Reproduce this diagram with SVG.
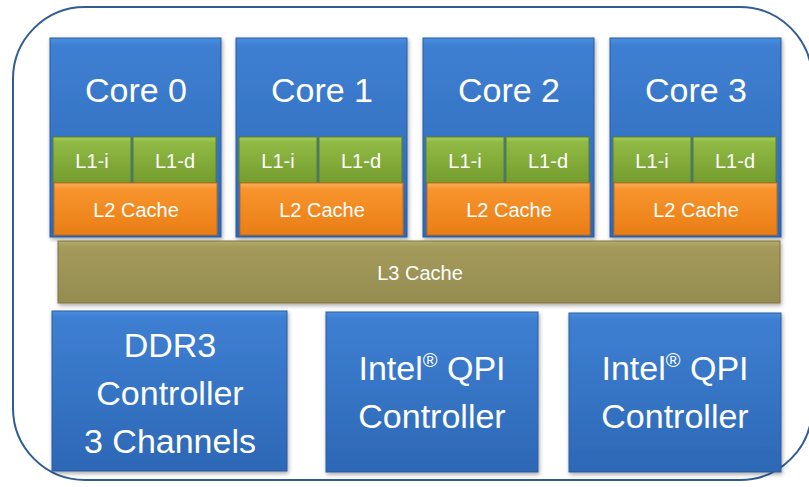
<svg xmlns="http://www.w3.org/2000/svg" width="809" height="487" viewBox="0 0 809 487">
<defs>
<linearGradient id="gBlue" x1="0" y1="0" x2="0" y2="1">
<stop offset="0" stop-color="#4A8EE0"/><stop offset="0.04" stop-color="#3E7FD2"/><stop offset="1" stop-color="#2D68B6"/>
</linearGradient>
<linearGradient id="gGreen" x1="0" y1="0" x2="0" y2="1">
<stop offset="0" stop-color="#A6CC5A"/><stop offset="0.12" stop-color="#8FB944"/><stop offset="1" stop-color="#759C2E"/>
</linearGradient>
<linearGradient id="gOrange" x1="0" y1="0" x2="0" y2="1">
<stop offset="0" stop-color="#FBB060"/><stop offset="0.12" stop-color="#F8942C"/><stop offset="1" stop-color="#E97D15"/>
</linearGradient>
<linearGradient id="gOlive" x1="0" y1="0" x2="0" y2="1">
<stop offset="0" stop-color="#B7AD6A"/><stop offset="0.1" stop-color="#A39A5B"/><stop offset="1" stop-color="#958C50"/>
</linearGradient>
<filter id="sh" x="-10%" y="-10%" width="120%" height="120%">
<feDropShadow dx="1" dy="2" stdDeviation="2" flood-color="#000" flood-opacity="0.35"/>
</filter>
</defs>
<style>
.core{fill:url(#gBlue);stroke:#2A5C9E;stroke-width:1;filter:url(#sh)}
.l1{fill:url(#gGreen);stroke:#5E7F25;stroke-width:1}
.l2{fill:url(#gOrange);stroke:#C8680E;stroke-width:1}
.l3{fill:url(#gOlive);stroke:#7E7540;stroke-width:1;filter:url(#sh)}
text{font-family:"Liberation Sans",Arial,sans-serif;fill:#fff;text-anchor:middle}
.big{font-size:34px}
.sm{font-size:20px}
.sup{font-size:20px}
</style>
<rect x="13" y="7" width="799" height="473" rx="72" ry="72" fill="none" stroke="#2F5D93" stroke-width="2"/>

<g id="core0">
<rect class="core" x="50" y="38" width="171" height="199"/>
<text class="big" x="136" y="102">Core 0</text>
<rect class="l1" x="53" y="137" width="78" height="46"/>
<text class="sm" x="92" y="168">L1-i</text>
<rect class="l1" x="133" y="137" width="83" height="46"/>
<text class="sm" x="175" y="168">L1-d</text>
<rect class="l2" x="54" y="183" width="163" height="52"/>
<text class="sm" x="136" y="217">L2 Cache</text>
</g>
<g id="core1">
<rect class="core" x="236" y="38" width="171" height="199"/>
<text class="big" x="322" y="102">Core 1</text>
<rect class="l1" x="239" y="137" width="78" height="46"/>
<text class="sm" x="278" y="168">L1-i</text>
<rect class="l1" x="319" y="137" width="83" height="46"/>
<text class="sm" x="361" y="168">L1-d</text>
<rect class="l2" x="240" y="183" width="163" height="52"/>
<text class="sm" x="322" y="217">L2 Cache</text>
</g>
<g id="core2">
<rect class="core" x="423" y="38" width="171" height="199"/>
<text class="big" x="509" y="102">Core 2</text>
<rect class="l1" x="426" y="137" width="78" height="46"/>
<text class="sm" x="465" y="168">L1-i</text>
<rect class="l1" x="506" y="137" width="83" height="46"/>
<text class="sm" x="548" y="168">L1-d</text>
<rect class="l2" x="427" y="183" width="163" height="52"/>
<text class="sm" x="509" y="217">L2 Cache</text>
</g>
<g id="core3">
<rect class="core" x="610" y="38" width="171" height="199"/>
<text class="big" x="696" y="102">Core 3</text>
<rect class="l1" x="613" y="137" width="78" height="46"/>
<text class="sm" x="652" y="168">L1-i</text>
<rect class="l1" x="693" y="137" width="83" height="46"/>
<text class="sm" x="735" y="168">L1-d</text>
<rect class="l2" x="614" y="183" width="163" height="52"/>
<text class="sm" x="696" y="217">L2 Cache</text>
</g>
<g id="l3">
<rect class="l3" x="58" y="241" width="722" height="62"/>
<text class="sm" x="420" y="280">L3 Cache</text>
</g>
<g id="ddr3">
<rect class="core" x="52" y="311" width="235" height="160"/>
<text class="big" x="170" y="357">DDR3</text>
<text class="big" x="170" y="405">Controller</text>
<text class="big" x="170" y="453">3 Channels</text>
</g>
<g id="qpi1">
<rect class="core" x="326" y="312" width="212" height="160"/>
<text class="big" x="432" y="380">Intel<tspan class="sup" dy="-13">®</tspan><tspan dy="13"> QPI</tspan></text>
<text class="big" x="432" y="428">Controller</text>
</g>
<g id="qpi2">
<rect class="core" x="569" y="313" width="212" height="159"/>
<text class="big" x="675" y="380">Intel<tspan class="sup" dy="-13">®</tspan><tspan dy="13"> QPI</tspan></text>
<text class="big" x="675" y="428">Controller</text>
</g>
<g id="connectors"></g>
</svg>
